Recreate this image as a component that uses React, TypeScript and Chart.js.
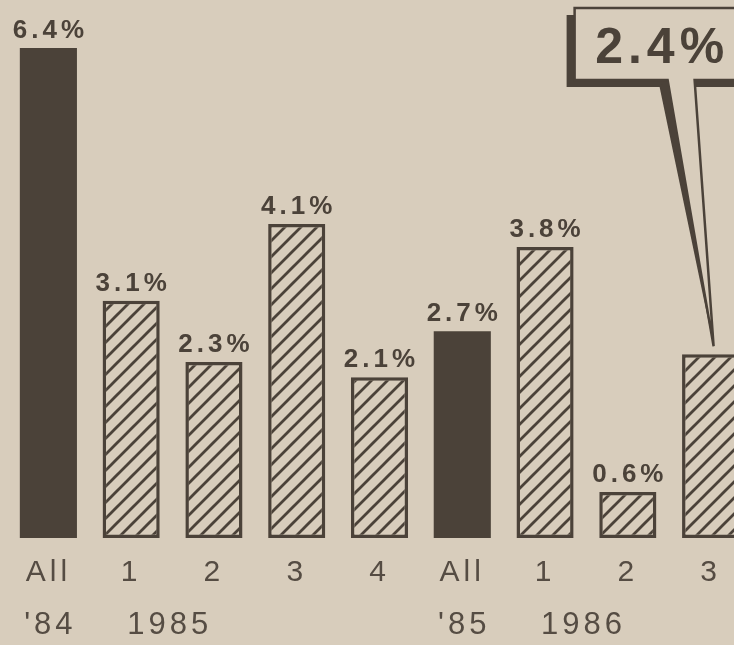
import React, { useEffect, useRef } from 'react';
import { Chart, registerables } from 'chart.js';

Chart.register(...registerables);

// ---- data ----
const categories = ['All', '1', '2', '3', '4', 'All', '1', '2', '3'];
const values = [6.4, 3.1, 2.3, 4.1, 2.1, 2.7, 3.8, 0.6, 2.4];
const annualFlags = [true, false, false, false, false, true, false, false, false];
const yearLabels = ["'84", '1985', "'85", '1986'];
const yearLabelAt = [0, 1, 5, 6];
const yearLabelLeft = [false, true, false, true];
const calloutAt = 8;

// ---- style ----
const PAPER = '#d8cdbc';
const INK = '#4b4239';
const TEXT = '#554c43';
const FONT = '"Liberation Sans", Arial, sans-serif';

function makeHatch(): CanvasPattern | string {
  const s = 16;
  const c = document.createElement('canvas');
  c.width = s;
  c.height = s;
  const g = c.getContext('2d');
  if (!g) return PAPER;
  g.fillStyle = PAPER;
  g.fillRect(0, 0, s, s);
  g.strokeStyle = INK;
  g.lineWidth = 2.8;
  g.beginPath();
  g.moveTo(-2, s + 2);
  g.lineTo(s + 2, -2);
  g.moveTo(-2, 2);
  g.lineTo(2, -2);
  g.moveTo(s - 2, s + 2);
  g.lineTo(s + 2, s - 2);
  g.stroke();
  return g.createPattern(c, 'repeat') || PAPER;
}

const paperPlugin = {
  id: 'paper',
  beforeUpdate(chart: any) {
    chart.ctx.letterSpacing = '4px';
  },
  beforeDraw(chart: any) {
    const ctx = chart.ctx;
    ctx.save();
    ctx.fillStyle = PAPER;
    ctx.fillRect(0, 0, chart.width, chart.height);
    ctx.restore();
    ctx.letterSpacing = '4px';
  },
};

const annotatePlugin = {
  id: 'annotate',
  afterDatasetsDraw(chart: any) {
    const ctx = chart.ctx as CanvasRenderingContext2D;
    const meta = chart.getDatasetMeta(0);
    // value labels
    meta.data.forEach((bar: any, i: number) => {
      if (i === calloutAt) return;
      ctx.save();
      ctx.font = `bold 26px ${FONT}`;
      (ctx as any).letterSpacing = '4px';
      ctx.fillStyle = INK;
      ctx.textAlign = 'center';
      ctx.textBaseline = 'alphabetic';
      ctx.fillText(`${values[i].toFixed(1)}%`, bar.x + 2, bar.y - 10);
      ctx.restore();
    });
    // year labels row
    const xs = chart.scales.x;
    yearLabels.forEach((t, k) => {
      const cx = xs.getPixelForValue(yearLabelAt[k]);
      ctx.save();
      ctx.font = `31px ${FONT}`;
      (ctx as any).letterSpacing = '4px';
      ctx.fillStyle = TEXT;
      ctx.textBaseline = 'alphabetic';
      if (yearLabelLeft[k]) {
        ctx.textAlign = 'left';
        ctx.fillText(t, cx - 4, 634);
      } else {
        ctx.textAlign = 'center';
        ctx.fillText(t, cx + 2, 634);
      }
      ctx.restore();
    });
    // callout
    const bar = meta.data[calloutAt];
    const tx = bar.x + 3;
    const ty = bar.y - 8;
    const bx0 = tx - 139;
    const bx1 = chart.width + 20;
    const by0 = 8;
    const by1 = 80;
    const gL = tx - 46;
    const gR = tx - 19;
    ctx.save();
    ctx.fillStyle = INK;
    ctx.fillRect(bx0 - 8, by0 + 7, bx1 - bx0, by1 - by0);
    ctx.beginPath();
    ctx.moveTo(bx0, by0);
    ctx.lineTo(bx1, by0);
    ctx.lineTo(bx1, by1);
    ctx.lineTo(gR, by1);
    ctx.lineTo(tx, ty);
    ctx.lineTo(gL, by1);
    ctx.lineTo(bx0, by1);
    ctx.closePath();
    ctx.fillStyle = PAPER;
    ctx.fill();
    ctx.lineWidth = 2.5;
    ctx.strokeStyle = INK;
    ctx.stroke();
    ctx.beginPath();
    ctx.moveTo(gL - 8, by1 + 7);
    ctx.lineTo(gL, by1);
    ctx.lineTo(tx, ty);
    ctx.closePath();
    ctx.fillStyle = INK;
    ctx.fill();
    ctx.font = `bold 50px ${FONT}`;
    (ctx as any).letterSpacing = '5px';
    ctx.textAlign = 'center';
    ctx.textBaseline = 'alphabetic';
    ctx.fillText(`${values[calloutAt].toFixed(1)}%`, tx - 54 + 2.5, 63);
    ctx.restore();
  },
};

export default function App() {
  const ref = useRef<HTMLCanvasElement | null>(null);

  useEffect(() => {
    if (!ref.current) return;
    const hatch = makeHatch();
    const chart = new Chart(ref.current, {
      type: 'bar',
      data: {
        labels: categories,
        datasets: [
          {
            data: values,
            backgroundColor: annualFlags.map((a) => (a ? INK : hatch)) as any,
            borderColor: INK,
            borderWidth: annualFlags.map((a) => (a ? 0 : 3.5)),
            borderSkipped: false,
            barPercentage: 0.69,
            categoryPercentage: 1,
          },
        ],
      },
      options: {
        animation: false,
        responsive: false,
        devicePixelRatio: 1,
        layout: { padding: { left: 7, right: 8, top: 2, bottom: 0 } },
        plugins: { legend: { display: false }, tooltip: { enabled: false } },
        scales: {
          x: {
            grid: { display: false, drawTicks: false },
            border: { display: false },
            ticks: {
              color: TEXT,
              font: { family: FONT, size: 30, weight: 'normal' as any },
              padding: 17,
              maxRotation: 0,
              autoSkip: false,
            },
            afterFit: (s: any) => {
              s.height = 107;
            },
          },
          y: { display: false, min: 0, max: 7 },
        },
      },
      plugins: [paperPlugin, annotatePlugin],
    });
    return () => chart.destroy();
  }, []);

  return (
    <div
      style={{
        position: 'absolute',
        left: 0,
        top: 0,
        width: 734,
        height: 645,
        overflow: 'hidden',
        background: PAPER,
      }}
    >
      <canvas ref={ref} width={760} height={645} style={{ display: 'block' }} />
    </div>
  );
}
